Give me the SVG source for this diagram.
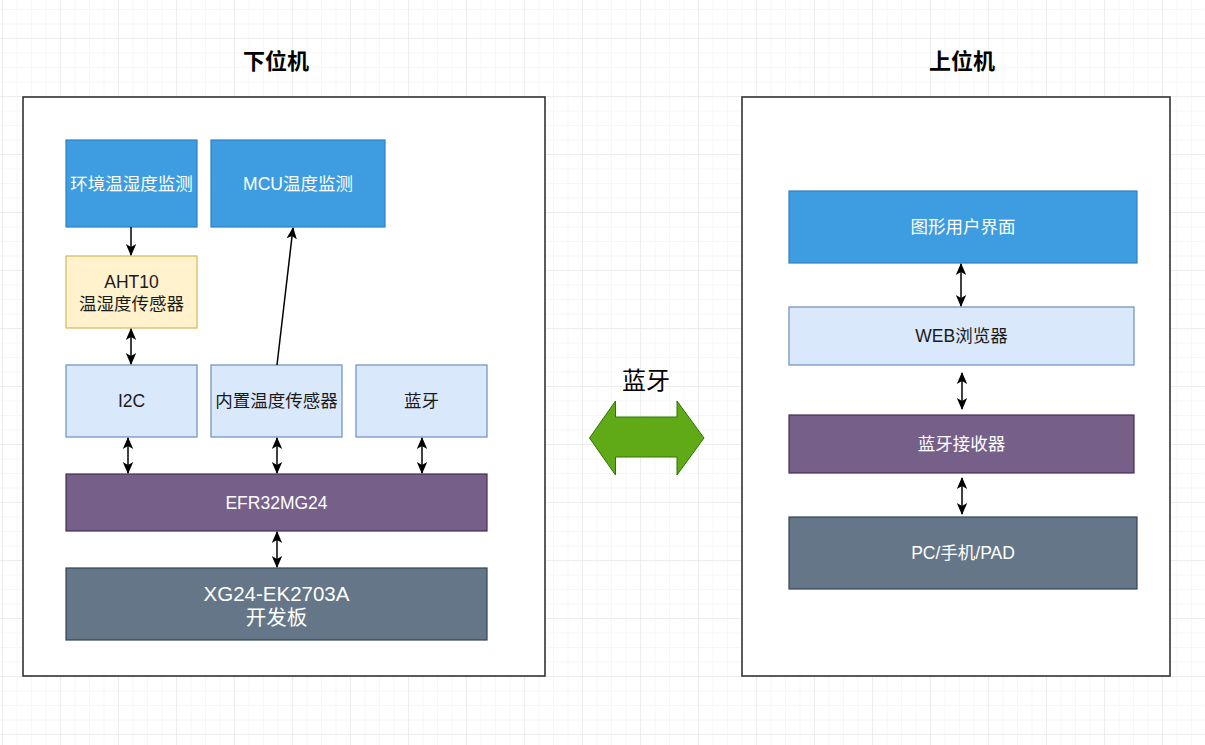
<svg xmlns="http://www.w3.org/2000/svg" width="1205" height="745" viewBox="0 0 1205 745">
<defs>
<pattern id="minor" x="2" y="9" width="14.5" height="14.5" patternUnits="userSpaceOnUse">
<path d="M0 0 H14.5 M0 0 V14.5" fill="none" stroke="#f0f0f0" stroke-width="1"/>
</pattern>
<pattern id="major" x="2" y="38" width="58" height="58" patternUnits="userSpaceOnUse">
<path d="M0 0 H58 M0 0 V58" fill="none" stroke="#e3e3e3" stroke-width="1"/>
</pattern>
<marker id="ah" viewBox="0 0 12 12" refX="11" refY="6" markerWidth="12" markerHeight="12" markerUnits="userSpaceOnUse" orient="auto-start-reverse">
<path d="M0 0.8 L12 6 L0 11.2 L3 6 Z" fill="#000"/>
</marker>
<style>
.t{font-family:"Liberation Sans","Noto Sans CJK SC",sans-serif;font-size:17.5px;text-anchor:middle;dominant-baseline:central}
.w{fill:#ffffff}
.k{fill:#1a1a1a}
.big{font-size:20.5px}
.title{font-family:"Liberation Sans","Noto Sans CJK SC",sans-serif;font-size:22px;font-weight:bold;text-anchor:middle;dominant-baseline:central;fill:#000}
.cont{fill:#ffffff;stroke:#333333;stroke-width:1.6}
.blue{fill:#3d9de0;stroke:#2f7fc0;stroke-width:1.2}
.yel{fill:#fff2cc;stroke:#d6b656;stroke-width:1.2}
.lb{fill:#dae8fc;stroke:#6c8ebf;stroke-width:1.2}
.pur{fill:#76608a;stroke:#432d57;stroke-width:1.2}
.sl{fill:#647687;stroke:#314354;stroke-width:1.2}
.c{fill:none;stroke:#000;stroke-width:1.5}
</style>
</defs>
<rect width="1205" height="745" fill="#ffffff"/>
<rect width="1205" height="745" fill="url(#minor)"/>
<rect width="1205" height="745" fill="url(#major)"/>

<g id="title-left"><text class="title" x="276" y="61">下位机</text></g>
<g id="title-right"><text class="title" x="962" y="61">上位机</text></g>

<g id="container-left"><rect class="cont" x="23" y="97" width="522" height="579"/></g>
<g id="container-right"><rect class="cont" x="742" y="97" width="428" height="579"/></g>

<g id="env"><rect class="blue" x="66" y="140" width="131" height="87"/><text class="t w" x="131.5" y="183.5">环境温湿度监测</text></g>
<g id="mcu"><rect class="blue" x="211" y="140" width="174" height="87"/><text class="t w" x="298" y="183.5">MCU温度监测</text></g>
<g id="aht10"><rect class="yel" x="66" y="256" width="131" height="72"/><text class="t k" x="131.5" y="282">AHT10</text><text class="t k" x="131.5" y="304">温湿度传感器</text></g>
<g id="i2c"><rect class="lb" x="66" y="365" width="131" height="72"/><text class="t k" x="131.5" y="401">I2C</text></g>
<g id="inner"><rect class="lb" x="211" y="365" width="131" height="72"/><text class="t k" x="276.5" y="401">内置温度传感器</text></g>
<g id="bt"><rect class="lb" x="356" y="365" width="131" height="72"/><text class="t k" x="421.5" y="401">蓝牙</text></g>
<g id="efr"><rect class="pur" x="66" y="474" width="421" height="57"/><text class="t w" x="276.5" y="502.5">EFR32MG24</text></g>
<g id="xg24"><rect class="sl" x="66" y="568" width="421" height="72"/><text class="t w big" x="276.5" y="593">XG24-EK2703A</text><text class="t w big" x="276.5" y="617">开发板</text></g>

<g id="gui"><rect class="blue" x="789" y="191" width="348" height="72"/><text class="t w" x="963" y="227">图形用户界面</text></g>
<g id="web"><rect class="lb" x="789" y="307" width="345" height="58"/><text class="t k" x="961.5" y="336">WEB浏览器</text></g>
<g id="btrx"><rect class="pur" x="789" y="415" width="345" height="58"/><text class="t w" x="961.5" y="444">蓝牙接收器</text></g>
<g id="pc"><rect class="sl" x="789" y="517" width="348" height="72"/><text class="t w" x="963" y="553">PC/手机/PAD</text></g>

<g id="bt-link">
<path d="M589.5 438 L615.5 401 L615.5 417 L677 417 L677 401 L704 438 L677 475 L677 457 L615.5 457 L615.5 475 Z" fill="#60a917" stroke="#2d7600" stroke-width="1"/>
<text x="646" y="380" font-family="'Liberation Sans','Noto Sans CJK SC',sans-serif" font-size="24" text-anchor="middle" dominant-baseline="central" fill="#000">蓝牙</text>
</g>

<g id="connectors">
<line class="c" x1="131" y1="227" x2="131" y2="255" marker-end="url(#ah)"/>
<line class="c" x1="131" y1="329" x2="131" y2="364" marker-start="url(#ah)" marker-end="url(#ah)"/>
<line class="c" x1="277" y1="365" x2="293" y2="228" marker-end="url(#ah)"/>
<line class="c" x1="128" y1="438" x2="128" y2="473" marker-start="url(#ah)" marker-end="url(#ah)"/>
<line class="c" x1="277" y1="438" x2="277" y2="473" marker-start="url(#ah)" marker-end="url(#ah)"/>
<line class="c" x1="422" y1="438" x2="422" y2="473" marker-start="url(#ah)" marker-end="url(#ah)"/>
<line class="c" x1="277" y1="532" x2="277" y2="567" marker-start="url(#ah)" marker-end="url(#ah)"/>
<line class="c" x1="961" y1="264" x2="961" y2="306" marker-start="url(#ah)" marker-end="url(#ah)"/>
<line class="c" x1="962" y1="373" x2="962" y2="409" marker-start="url(#ah)" marker-end="url(#ah)"/>
<line class="c" x1="962" y1="478" x2="962" y2="514" marker-start="url(#ah)" marker-end="url(#ah)"/>
</g>
</svg>
